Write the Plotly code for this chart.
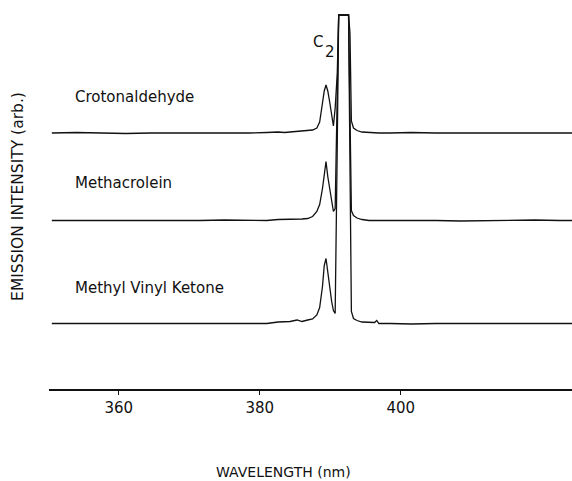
import numpy as np
import plotly.graph_objects as go

# Wavelength grid (nm) shared by the three emission spectra
wavelength = [
    350.5, 354.0, 357.5, 361.0, 364.5, 368.0, 371.5, 375.0, 378.5, 381.0,
    382.6, 383.5, 384.3, 385.3, 386.0, 386.8, 387.5, 388.1, 388.5, 388.9,
    389.15, 389.4, 389.65, 389.9, 390.2, 390.45, 390.7, 391.0, 391.2, 392.6,
    392.8, 393.0, 393.3, 393.8, 394.5, 395.5, 396.3, 396.6, 396.9, 398.5,
    401.5, 405.0, 408.5, 412.0, 415.5, 419.0, 422.5, 424.3,
]

# Emission intensity (arb.) above each trace's own baseline.
# The C2 band head runs off scale, so its true height is not known (6.0 = off scale).
crotonaldehyde = [
    0.00, 0.005, 0.00, -0.005, 0.00, 0.00, -0.005, 0.00, 0.00, 0.005,
    0.01, 0.005, 0.01, 0.01, 0.02, 0.02, 0.03, 0.05, 0.11, 0.30,
    0.42, 0.48, 0.42, 0.32, 0.16, 0.07, 0.25, 0.60, 6.00, 6.00,
    1.00, 0.12, 0.05, 0.025, 0.01, 0.005, 0.00, 0.00, 0.00, 0.00,
    0.005, 0.00, 0.00, 0.005, 0.00, 0.00, 0.00, 0.00,
]
methacrolein = [
    0.00, 0.00, -0.005, 0.00, 0.00, -0.005, 0.00, 0.005, 0.005, 0.00,
    0.01, 0.01, 0.01, 0.015, 0.015, 0.02, 0.04, 0.09, 0.16, 0.32,
    0.47, 0.59, 0.44, 0.33, 0.17, 0.09, 0.12, 1.50, 6.00, 6.00,
    0.90, 0.10, 0.05, 0.025, 0.01, 0.00, 0.00, 0.00, 0.00, 0.00,
    0.005, 0.00, -0.005, 0.00, 0.00, 0.005, 0.00, 0.00,
]
methyl_vinyl_ketone = [
    0.00, 0.00, -0.005, 0.00, -0.005, 0.00, 0.00, -0.005, 0.00, 0.00,
    0.015, 0.02, 0.02, 0.035, 0.02, 0.035, 0.045, 0.085, 0.16, 0.37,
    0.58, 0.65, 0.50, 0.37, 0.22, 0.13, 0.10, 1.80, 6.00, 6.00,
    1.10, 0.12, 0.05, 0.03, 0.015, 0.01, 0.01, 0.03, 0.00, 0.00,
    -0.005, 0.00, 0.00, 0.00, 0.00, 0.00, 0.00, 0.00,
]

compounds = ["Crotonaldehyde", "Methacrolein", "Methyl Vinyl Ketone"]
spectra = [crotonaldehyde, methacrolein, methyl_vinyl_ketone]
offsets = [2.56, 1.685, 0.655]          # vertical stacking of the traces
label_y = [2.925, 2.06, 1.015]          # height of each compound label

X_TICKS = [360, 380, 400]
TOP = 3.74                               # recorder full scale (peaks clip here)
FONT = "DejaVu Sans"

fig = go.Figure()
for name, spec, off in zip(compounds, spectra, offsets):
    y = np.minimum(off + np.asarray(spec), TOP)
    fig.add_trace(go.Scatter(
        x=wavelength, y=y, mode="lines", name=name,
        line=dict(color="#111111", width=1.3),
        hoverinfo="skip", showlegend=False,
    ))

annotations = []
for name, ly in zip(compounds, label_y):
    annotations.append(dict(
        x=353.46, y=ly, xref="x", yref="y", text=name, showarrow=False,
        xanchor="left", yanchor="middle",
        font=dict(family=FONT, size=15, color="#111111"),
    ))

# C2 band label, subscript drawn as a separate lowered character
annotations.append(dict(x=388.2, y=3.47, xref="x", yref="y", text="C",
                        showarrow=False, xanchor="center", yanchor="middle",
                        font=dict(family=FONT, size=15, color="#111111")))
annotations.append(dict(x=389.9, y=3.37, xref="x", yref="y", text="2",
                        showarrow=False, xanchor="center", yanchor="middle",
                        font=dict(family=FONT, size=15, color="#111111")))

# Axis titles
annotations.append(dict(x=0.448, y=-0.2196, xref="paper", yref="paper",
                        text="WAVELENGTH (nm)", showarrow=False,
                        xanchor="center", yanchor="middle",
                        font=dict(family=FONT, size=14, color="#111111")))
annotations.append(dict(x=-0.058, y=0.51, xref="paper", yref="paper",
                        text="EMISSION INTENSITY (arb.)", showarrow=False,
                        textangle=-90, xanchor="center", yanchor="middle",
                        font=dict(family=FONT, size=15.5, color="#111111")))

fig.update_layout(
    width=572, height=481,
    margin=dict(l=49, r=0, t=11, b=92),
    paper_bgcolor="white", plot_bgcolor="white",
    annotations=annotations,
    xaxis=dict(
        range=[350.1, 424.3], tickvals=X_TICKS, ticks="outside", ticklen=4,
        tickwidth=1.2, tickcolor="#111111",
        showline=True, linecolor="#111111", linewidth=1.5,
        showgrid=False, zeroline=False,
        tickfont=dict(family=FONT, size=15, color="#111111"),
    ),
    yaxis=dict(range=[0, 3.78], visible=False, showgrid=False, zeroline=False),
)

fig.write_html("out.html")
